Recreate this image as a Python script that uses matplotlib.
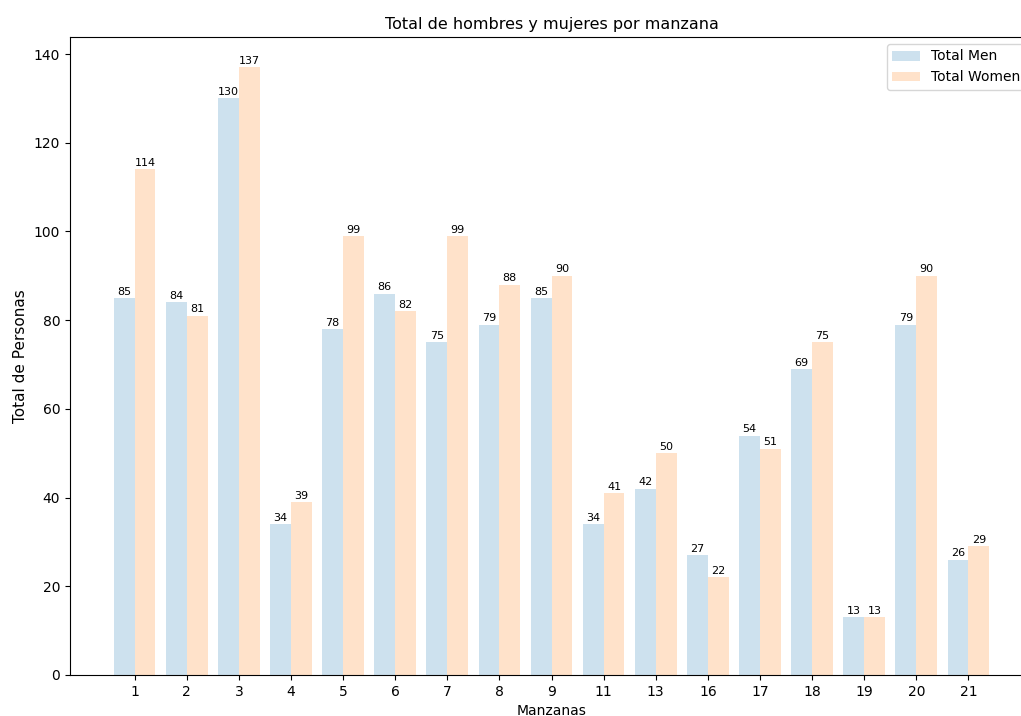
import matplotlib
matplotlib.use("Agg")
import matplotlib.pyplot as plt
import numpy as np

manzanas = ["1", "2", "3", "4", "5", "6", "7", "8", "9", "11", "13", "16", "17", "18", "19", "20", "21"]
total_men = [85, 84, 130, 34, 78, 86, 75, 79, 85, 34, 42, 27, 54, 69, 13, 79, 26]
total_women = [114, 81, 137, 39, 99, 82, 99, 88, 90, 41, 50, 22, 51, 75, 13, 90, 29]

fig = plt.figure(figsize=(10.21, 7.16), dpi=100)
W, H = 1021, 716
ax = fig.add_axes([70 / W, (H - 675) / H, (1033 - 70) / W, (675 - 37) / H])

x = np.arange(len(manzanas))
w = 0.4
b1 = ax.bar(x - w / 2, total_men, w, label="Total Men", color="tab:blue", alpha=0.22)
b2 = ax.bar(x + w / 2, total_women, w, label="Total Women", color="tab:orange", alpha=0.22)
ax.bar_label(b1, fontsize=8, padding=1)
ax.bar_label(b2, fontsize=8, padding=1)

ax.set_xticks(x)
ax.set_xticklabels(manzanas)
ax.set_xlabel("Manzanas", fontsize=10)
ax.set_ylabel("Total de Personas", fontsize=11)
ax.set_title("Total de hombres y mujeres por manzana", fontsize=11.5)
ax.legend(loc="upper right")

fig.savefig("out.png", dpi=100)
